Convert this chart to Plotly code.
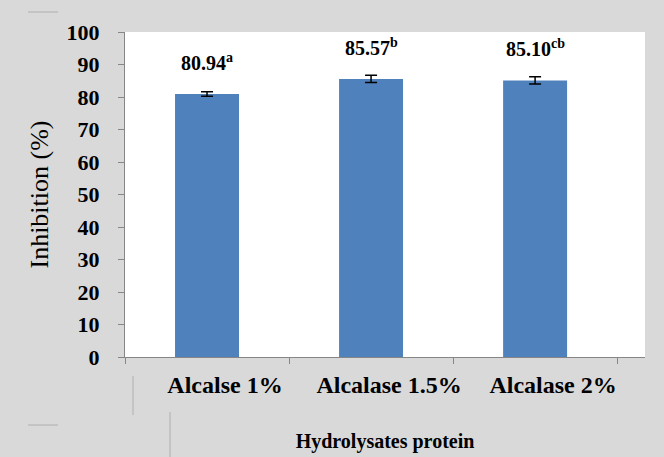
import plotly.graph_objects as go

categories = ["Alcalse 1%", "Alcalase 1.5%", "Alcalase 2%"]
inhibition = [80.94, 85.57, 85.10]
errors = [0.7, 1.1, 1.1]
letters = ["a", "b", "cb"]

SERIF = "Liberation Serif"
GRAY = "#868686"

fig = go.Figure()
fig.add_trace(go.Bar(
    x=categories, y=inhibition,
    marker=dict(color="#4f81bd", line=dict(width=0)),
    error_y=dict(type="data", array=errors, color="black", thickness=1.5, width=6),
    showlegend=False,
))

for c, v, l in zip(categories, inhibition, letters):
    fig.add_annotation(
        x=c, y=v, xref="x", yref="y",
        text=f"<b>{v:.2f}<sup>{l}</sup></b>",
        showarrow=False, yanchor="bottom", yshift=18,
        font=dict(family=SERIF, size=20, color="black"),
    )

# faint screenshot artifacts (table borders) in the gray frame
artifacts = [
    (133, 376, 133, 415),
    (28, 425, 58, 425),
    (170, 412, 170, 457),
    (28, 12, 58, 12),
]
for x0, y0, x1, y1 in artifacts:
    fig.add_shape(type="line", xref="paper", yref="paper",
                  x0=(x0 - 125) / 520, x1=(x1 - 125) / 520,
                  y0=(357 - y0) / 325, y1=(357 - y1) / 325,
                  line=dict(color="#c4c4c4", width=2))

fig.update_layout(
    width=664, height=457,
    margin=dict(l=125, r=19, t=32, b=100, autoexpand=False),
    paper_bgcolor="#d9d9d9", plot_bgcolor="white",
    bargap=0.61,
    font=dict(family=SERIF, color="black"),
    xaxis=dict(
        type="category", range=[-0.5, 2.67], automargin=False,
        tickson="boundaries", ticks="outside", ticklen=6, tickcolor=GRAY,
        showline=True, linecolor=GRAY, linewidth=1, showgrid=False,
        tickfont=dict(family=SERIF, size=24, color="black", weight="bold"),
        ticklabelshift=18, ticklabelstandoff=6,
        title=dict(text="Hydrolysates protein", standoff=37,
                   font=dict(family=SERIF, size=20, color="black", weight="bold")),
    ),
    yaxis=dict(
        range=[0, 100], dtick=10, automargin=False,
        ticks="outside", ticklen=6, tickcolor=GRAY,
        showline=True, linecolor=GRAY, linewidth=1, showgrid=False, zeroline=False,
        tickfont=dict(family=SERIF, size=22, color="black", weight="bold"),
        ticklabelstandoff=14,
        title=dict(text="Inhibition (%)", standoff=10,
                   font=dict(family=SERIF, size=26, color="black")),
    ),
)

fig.write_html(
    "out.html",
    config={"displayModeBar": False},
    post_script="document.body.style.margin='0';document.body.style.background='#d9d9d9';",
)
